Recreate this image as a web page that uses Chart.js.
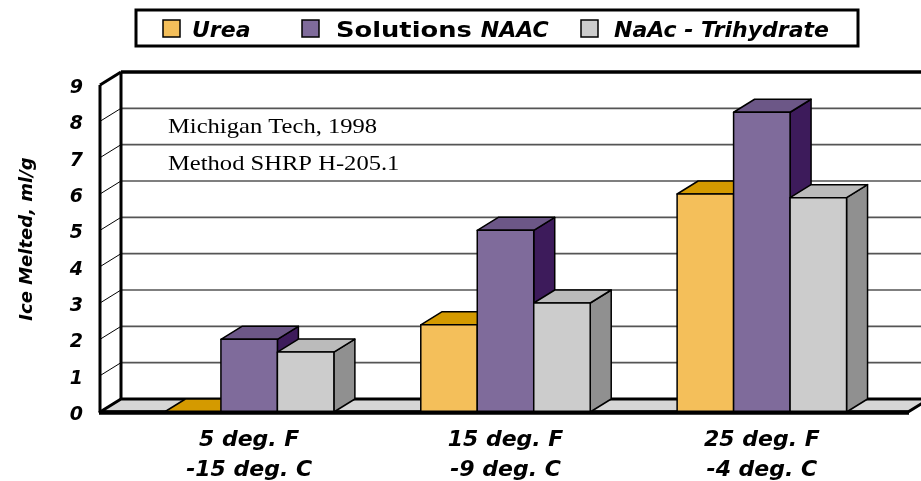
<!DOCTYPE html>
<html><head><meta charset="utf-8">
<script src="https://cdn.jsdelivr.net/npm/chart.js@4.4.1/dist/chart.umd.min.js"></script>
<style>html,body{margin:0;padding:0;background:#fff;overflow:hidden}#wrap{position:relative;width:921px;height:481px}</style>
</head><body><div id="wrap"><canvas id="c" width="921" height="481"></canvas></div>
<script>
// ---- data ----
const categories = [['5 deg. F', '-15 deg. C'], ['15 deg. F', '-9 deg. C'], ['25 deg. F', '-4 deg. C']];
const seriesNames = ['Urea', 'Solutions NAAC', 'NaAc - Trihydrate'];
const ureaValues = [0, 2.4, 6.0];
const naacValues = [2.0, 5.0, 8.25];
const trihydrateValues = [1.65, 3.0, 5.9];
const yTickValues = [0, 1, 2, 3, 4, 5, 6, 7, 8, 9];
const notes = ['Michigan Tech, 1998', 'Method SHRP H-205.1'];
const yTitle = 'Ice Melted, ml/g';

// ---- styles ----
const faceColors = [
  { front: '#F4BF5A', top: '#D49A00', side: '#A87A00' },
  { front: '#7F6B9B', top: '#6C5787', side: '#3D1B5B' },
  { front: '#CCCCCC', top: '#BBBBBB', side: '#909090' }
];
const DX = 21, DY = -13;
const BOLD_IT = (s) => ({ family: 'DejaVu Sans', size: s, style: 'italic', weight: 'bold' });

function poly(ctx, pts, fill, stroke, lw) {
  ctx.beginPath();
  ctx.moveTo(pts[0][0], pts[0][1]);
  for (let i = 1; i < pts.length; i++) ctx.lineTo(pts[i][0], pts[i][1]);
  ctx.closePath();
  if (fill) { ctx.fillStyle = fill; ctx.fill(); }
  if (stroke) { ctx.strokeStyle = stroke; ctx.lineWidth = lw; ctx.lineJoin = 'round'; ctx.stroke(); }
}
function line(ctx, x1, y1, x2, y2, color, lw) {
  ctx.beginPath(); ctx.moveTo(x1, y1); ctx.lineTo(x2, y2);
  ctx.strokeStyle = color; ctx.lineWidth = lw; ctx.stroke();
}

const threeD = {
  id: 'threeD',
  beforeDatasetsDraw(chart) {
    const ctx = chart.ctx;
    const ys = chart.scales.y, xs = chart.scales.x;
    const ca = chart.chartArea;
    const fl = ca.left - 21, fr = ca.right + 18;         // front wall/floor x extent
    const y0 = ys.getPixelForValue(0), yTop = ys.getPixelForValue(9);
    const W = chart.width + 40;
    ctx.save();
    // back wall gridlines
    yTickValues.forEach(v => {
      if (v === 0 || v === 9) return;
      const y = ys.getPixelForValue(v);
      line(ctx, fl + DX, y + DY, W, y + DY, '#555', 1.6);
      line(ctx, fl, y, fl + DX, y + DY, '#000', 1);
    });
    // back wall top border
    line(ctx, fl + DX, yTop + DY, W, yTop + DY, '#000', 3.5);
    // floor
    poly(ctx, [[fl, y0], [fr, y0], [fr + DX, y0 + DY], [fl + DX, y0 + DY]], '#D6D6D6', '#000', 3);
    line(ctx, fl - 1, y0 + 0.5, fr + 1, y0 + 0.5, '#000', 4);
    // left wall edges
    line(ctx, fl, y0, fl, yTop, '#000', 3);
    line(ctx, fl, yTop, fl + DX, yTop + DY, '#000', 3);
    line(ctx, fl + DX, yTop + DY, fl + DX, y0 + DY, '#000', 3);
    // notes
    ctx.fillStyle = '#000';
    ctx.font = '21px "Liberation Serif"';
    ctx.textBaseline = 'alphabetic';
    ctx.textAlign = 'left';
    notes.forEach((t, i) => {
      ctx.save();
      ctx.translate(ca.left + 47, ys.getPixelForValue(8) + 12 + i * 37);
      ctx.scale(1.17, 1);
      ctx.fillText(t, 0, 0);
      ctx.restore();
    });
    // bars, left to right
    const metas = chart.data.datasets.map((d, i) => chart.getDatasetMeta(i));
    const n = chart.data.labels.length;
    for (let c = 0; c < n; c++) {
      metas.forEach((m, d) => {
        const el = m.data[c];
        const x0 = el.x - el.width / 2, x1 = el.x + el.width / 2;
        const yt = el.y, yb = el.base;
        const col = faceColors[d];
        poly(ctx, [[x1, yt], [x1 + DX, yt + DY], [x1 + DX, yb + DY], [x1, yb]], col.side, '#000', 1.5);
        poly(ctx, [[x0, yt], [x1, yt], [x1 + DX, yt + DY], [x0 + DX, yt + DY]], col.top, '#000', 1.5);
        if (yb - yt > 0.5) poly(ctx, [[x0, yt], [x1, yt], [x1, yb], [x0, yb]], col.front, '#000', 1.5);
      });
    }
    line(ctx, fl - 1, y0 + 0.5, fr + 1, y0 + 0.5, '#000', 4);
    ctx.restore();
    return false;
  },
  afterDraw(chart) {
    const ctx = chart.ctx;
    ctx.save();
    // y title
    ctx.fillStyle = '#000';
    ctx.font = 'italic bold 18px "DejaVu Sans"';
    ctx.translate(27, 239);
    ctx.rotate(-Math.PI / 2);
    ctx.textAlign = 'center';
    ctx.textBaseline = 'middle';
    ctx.fillText(yTitle, 0, 0);
    ctx.restore();
    // legend
    ctx.save();
    ctx.strokeStyle = '#000'; ctx.lineWidth = 3;
    ctx.strokeRect(136, 10, 722, 36);
    const swX = [163, 302, 581], txX = [192, 336, 614];
    ctx.textBaseline = 'alphabetic';
    ctx.textAlign = 'left';
    seriesNames.forEach((name, i) => {
      ctx.fillStyle = faceColors[i].front;
      ctx.fillRect(swX[i], 20, 17, 17);
      ctx.strokeStyle = '#000'; ctx.lineWidth = 1.5;
      ctx.strokeRect(swX[i], 20, 17, 17);
      ctx.fillStyle = '#000';
      let x = txX[i];
      const words = name.split(' ');
      if (name === 'Solutions NAAC') {
        ctx.font = 'bold 22px "DejaVu Sans"';
        ctx.save(); ctx.translate(x, 37); ctx.scale(1.17, 1); ctx.fillText(words[0] + ' ', 0, 0); ctx.restore();
        x += ctx.measureText(words[0] + ' ').width * 1.17;
        ctx.font = 'italic bold 22px "DejaVu Sans"';
        ctx.fillText(words.slice(1).join(' '), x, 37);
      } else {
        ctx.font = 'italic bold 22px "DejaVu Sans"';
        ctx.fillText(name, x, 37);
      }
    });
    ctx.restore();
  }
};

new Chart(document.getElementById('c'), {
  type: 'bar',
  data: {
    labels: categories,
    datasets: [
      { label: seriesNames[0], data: ureaValues, backgroundColor: faceColors[0].front },
      { label: seriesNames[1], data: naacValues, backgroundColor: faceColors[1].front },
      { label: seriesNames[2], data: trihydrateValues, backgroundColor: faceColors[2].front }
    ]
  },
  options: {
    responsive: false,
    animation: false,
    devicePixelRatio: 1,
    layout: { padding: { left: 0, right: 31, top: 85, bottom: 0 } },
    datasets: { bar: { categoryPercentage: 0.661, barPercentage: 1.0 } },
    plugins: { legend: { display: false }, tooltip: { enabled: false } },
    scales: {
      x: {
        grid: { display: false, drawTicks: false },
        border: { display: false },
        ticks: { font: Object.assign(BOLD_IT(22), { lineHeight: 1.36 }), color: '#000', padding: 13, maxRotation: 0, autoSkip: false },
        afterFit(s) { s.height = 69; }
      },
      y: {
        min: 0, max: 9,
        grid: { display: false, drawTicks: false },
        border: { display: false },
        afterBuildTicks(s) { s.ticks = yTickValues.map(v => ({ value: v })); },
        ticks: { font: BOLD_IT(19), color: '#000', padding: 38, labelOffset: 3 },
        afterFit(s) { s.width = 121; }
      }
    }
  },
  plugins: [threeD]
});
</script>
</body></html>
